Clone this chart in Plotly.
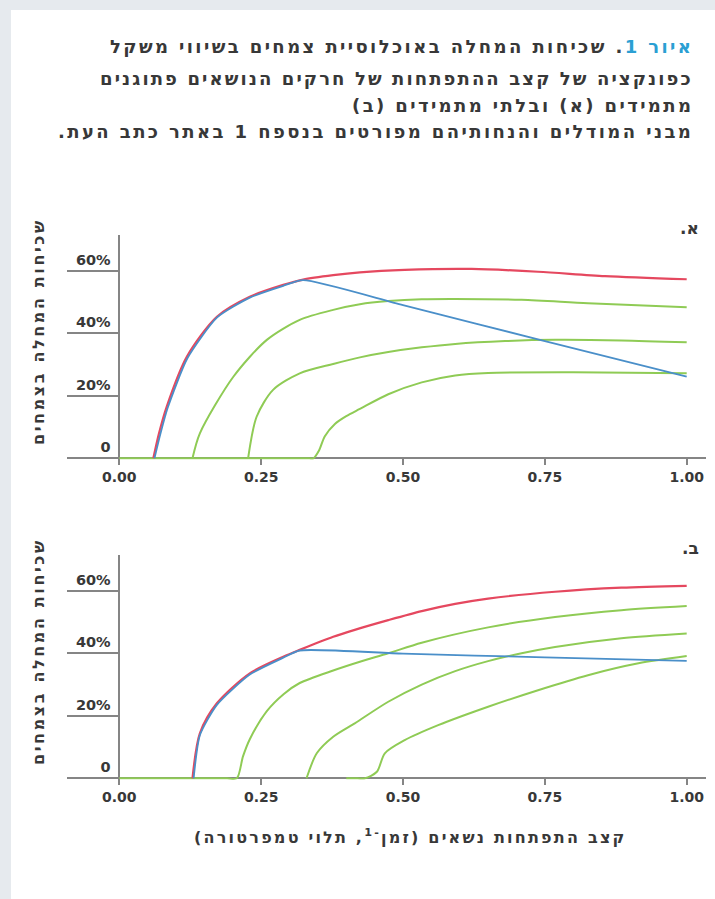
import plotly.graph_objects as go

W, H = 715, 899
RLM = "\u200f"

# ---------------- data ----------------
# Panel א (persistent)
a_red_x = [0.06, 0.07, 0.0835, 0.119, 0.172, 0.230, 0.289, 0.324, 0.377, 0.424, 0.503, 0.621, 0.738, 0.856, 1.0]
a_red_y = [0, 8, 16.5, 32.5, 45.3, 51.7, 55.5, 57.2, 58.6, 59.5, 60.3, 60.6, 59.7, 58.3, 57.3]

a_blue_x = [0.062, 0.072, 0.085, 0.120, 0.172, 0.230, 0.289, 0.324, 0.50, 0.75, 1.0]
a_blue_y = [0, 7.5, 16.0, 32.0, 45.0, 51.4, 55.2, 57.0, 49.0, 37.5, 26.1]

a_g1_x = [0.129, 0.142, 0.201, 0.26, 0.318, 0.377, 0.424, 0.474, 0.533, 0.592, 0.709, 0.826, 1.0]
a_g1_y = [0, 8, 26.1, 37.9, 44.3, 47.5, 49.3, 50.3, 50.9, 51.0, 50.7, 49.6, 48.3]

a_g2_x = [0.227, 0.242, 0.271, 0.318, 0.377, 0.424, 0.474, 0.533, 0.592, 0.680, 0.768, 0.885, 1.0]
a_g2_y = [0, 13.3, 21.9, 27.2, 30.2, 32.3, 34.0, 35.5, 36.6, 37.5, 37.9, 37.7, 37.1]

a_g3_x = [0.0, 0.15, 0.30, 0.335, 0.342, 0.352, 0.362, 0.380, 0.400, 0.424, 0.474, 0.533, 0.592, 0.650, 0.80, 1.0]
a_g3_y = [0, 0, 0, 0, 0, 2.5, 7.0, 11.0, 13.5, 15.8, 20.5, 24.3, 26.5, 27.3, 27.5, 27.2]

# Panel ב (non-persistent)
b_red_x = [0.129, 0.142, 0.172, 0.230, 0.289, 0.318, 0.377, 0.415, 0.474, 0.533, 0.592, 0.650, 0.768, 0.885, 1.0]
b_red_y = [0, 14.4, 24.0, 33.6, 38.9, 41.1, 45.3, 47.5, 50.6, 53.5, 55.8, 57.5, 59.7, 61.0, 61.6]

b_blue_x = [0.131, 0.142, 0.172, 0.230, 0.289, 0.318, 0.50, 0.75, 1.0]
b_blue_y = [0, 13.8, 23.5, 33.2, 38.6, 40.9, 39.9, 38.7, 37.6]

b_g1_x = [0.0, 0.10, 0.19, 0.207, 0.218, 0.230, 0.260, 0.290, 0.318, 0.377, 0.424, 0.474, 0.533, 0.650, 0.768, 0.885, 1.0]
b_g1_y = [0, 0, 0, 0, 7.0, 12.5, 21.5, 27.0, 30.5, 34.5, 37.3, 40.0, 43.4, 48.3, 51.6, 53.8, 55.1]

b_g2_x = [0.330, 0.348, 0.377, 0.415, 0.474, 0.533, 0.592, 0.650, 0.709, 0.768, 0.885, 1.0]
b_g2_y = [0, 8, 13.3, 17.6, 24.5, 30.0, 34.3, 37.5, 40.0, 42.0, 44.8, 46.3]

b_g3_x = [0.40, 0.42, 0.433, 0.454, 0.468, 0.503, 0.562, 0.650, 0.738, 0.826, 0.915, 1.0]
b_g3_y = [0, 0, 0, 2.1, 8, 12.2, 17, 22.9, 28.2, 33, 36.8, 39.1]

x_tickvals = [0, 0.25, 0.5, 0.75, 1.0]
x_ticktext = ["0.00", "0.25", "0.50", "0.75", "1.00"]
y_tickvals = [0, 20, 40, 60]
y_ticktext = ["0", "20%", "40%", "60%"]

title_lines = [
    "<span style='color:#2b9fd3'>איור 1</span>. שכיחות המחלה באוכלוסיית צמחים בשיווי משקל",
    "כפונקציה של קצב ההתפתחות של חרקים הנושאים פתוגנים",
    "מתמידים (א) ובלתי מתמידים (ב)",
    "מבני המודלים והנחותיהם מפורטים בנספח 1 באתר כתב העת.",
]
y_title = "שכיחות המחלה בצמחים"
x_title = "קצב התפתחות נשאים (זמן<sup>-1</sup>, תלוי טמפרטורה)"
panel_labels = ["א.", "ב."]

# ---------------- styling ----------------
RED = "#e5485f"
BLUE = "#4a8fc9"
GREEN = "#8fcb55"
AX = "#858585"
TXT = "#383838"
BG = "#e6eaee"
HEB_FONT = "DejaVu Sans"


def px(x):
    return x / W


def py(y):
    return 1 - y / H


def spaced(s, ls):
    return "<span style='letter-spacing:%spx'>%s</span>" % (ls, s)


fig = go.Figure()

panels = [
    dict(xa="x", ya="y", red=(a_red_x, a_red_y), blue=(a_blue_x, a_blue_y),
         greens=[(a_g3_x, a_g3_y), (a_g2_x, a_g2_y), (a_g1_x, a_g1_y)]),
    dict(xa="x2", ya="y2", red=(b_red_x, b_red_y), blue=(b_blue_x, b_blue_y),
         greens=[(b_g1_x, b_g1_y), (b_g3_x, b_g3_y), (b_g2_x, b_g2_y)]),
]
for p in panels:
    for gx, gy in p["greens"]:
        fig.add_trace(go.Scatter(x=gx, y=gy, mode="lines", xaxis=p["xa"], yaxis=p["ya"],
                                 line=dict(color=GREEN, width=2, shape="spline", smoothing=0.8),
                                 hoverinfo="skip", showlegend=False))
    fig.add_trace(go.Scatter(x=p["red"][0], y=p["red"][1], mode="lines", xaxis=p["xa"], yaxis=p["ya"],
                             line=dict(color=RED, width=2.2, shape="spline", smoothing=0.8),
                             hoverinfo="skip", showlegend=False))
    fig.add_trace(go.Scatter(x=p["blue"][0], y=p["blue"][1], mode="lines", xaxis=p["xa"], yaxis=p["ya"],
                             line=dict(color=BLUE, width=1.8, shape="spline", smoothing=0.6),
                             hoverinfo="skip", showlegend=False))

# geometry (pixels)
X0_PX, X1_PX = 119.3, 686.7          # data x=0 and x=1
XL_PX, XR_PX = 67.0, 706.0           # axis extent
ppu = (X1_PX - X0_PX)
xr = [(XL_PX - X0_PX) / ppu, (XR_PX - X0_PX) / ppu]
PXPCT = 3.125
YMAX = 71.5
YMIN = -0.5
zeros = [458.3, 778.3]

common_x = dict(range=xr, domain=[px(XL_PX), px(XR_PX)], tickvals=x_tickvals, ticktext=x_ticktext,
                ticks="outside", ticklen=6, tickwidth=1.5, tickcolor=AX, showline=True, linecolor=AX,
                linewidth=1.5, showgrid=False, zeroline=False, layer="below traces",
                tickfont=dict(family="DejaVu Sans", size=14, color=TXT, weight="bold"),
                fixedrange=True)
common_y = dict(range=[YMIN, YMAX], tickvals=y_tickvals, ticktext=y_ticktext, ticks="outside",
                ticklen=52, tickwidth=1.5, tickcolor=AX, showline=True, linecolor=AX, linewidth=1.5,
                showgrid=False, zeroline=False, layer="below traces", anchor="free", position=px(X0_PX),
                ticklabelstandoff=-47, ticklabelshift=-11,
                tickfont=dict(family="DejaVu Sans", size=14.5, color=TXT, weight="bold"),
                fixedrange=True)

layout_axes = {}
for i, z in enumerate(zeros):
    top = z - YMAX * PXPCT
    bot = z - YMIN * PXPCT
    suffix = "" if i == 0 else str(i + 1)
    layout_axes["yaxis" + suffix] = dict(common_y, domain=[py(bot), py(top)])
    layout_axes["xaxis" + suffix] = dict(common_x, anchor="free", position=py(z))

fig.update_layout(**layout_axes)
fig.update_layout(
    width=W, height=H, margin=dict(l=0, r=0, t=0, b=0),
    paper_bgcolor=BG, plot_bgcolor="rgba(0,0,0,0)", showlegend=False,
    shapes=[dict(type="rect", xref="paper", yref="paper", x0=px(11), x1=1.0, y0=0, y1=py(10),
                 fillcolor="white", line=dict(width=0), layer="below")],
)

ann = []
title_y = [47, 78, 105, 131]
title_ls = [2.4, 2.1, 2.4, 2.4]
for line, yy, ls in zip(title_lines, title_y, title_ls):
    ann.append(dict(text=RLM + spaced(line, ls) + RLM, xref="paper", yref="paper", x=px(695), y=py(yy),
                    xanchor="right", yanchor="middle", showarrow=False, align="right",
                    font=dict(family=HEB_FONT, size=18, color=TXT, weight="bold")))
for lab, yy in zip(panel_labels, [228, 548]):
    ann.append(dict(text=lab + RLM, xref="paper", yref="paper", x=px(701), y=py(yy),
                    xanchor="right", yanchor="middle", showarrow=False,
                    font=dict(family=HEB_FONT, size=17, color=TXT, weight="bold")))
for yy in [332, 652]:
    ann.append(dict(text=RLM + spaced(y_title, 2.6) + RLM, xref="paper", yref="paper", x=px(38), y=py(yy),
                    xanchor="center", yanchor="middle", showarrow=False, textangle=-90,
                    font=dict(family=HEB_FONT, size=16, color=TXT, weight="bold")))
ann.append(dict(text=RLM + spaced(x_title, 2.2) + RLM, xref="paper", yref="paper", x=px(410), y=py(836),
                xanchor="center", yanchor="middle", showarrow=False,
                font=dict(family=HEB_FONT, size=16, color=TXT, weight="bold")))
fig.update_layout(annotations=ann)

fig.write_html("out.html", config={"displayModeBar": False},
               post_script="document.body.style.margin='0px';document.body.style.overflow='hidden';")
